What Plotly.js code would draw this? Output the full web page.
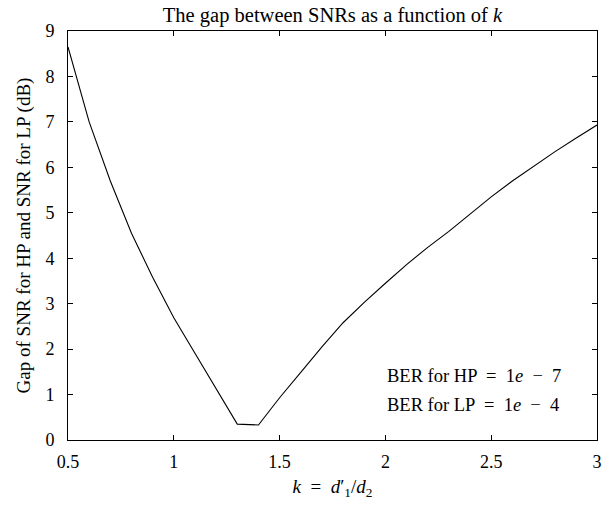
<!DOCTYPE html>
<html>
<head>
<meta charset="utf-8">
<script src="https://cdn.plot.ly/plotly-3.0.1.min.js"></script>
<style>html,body{margin:0;padding:0;background:#fff;}#chart{width:615px;height:505px;}</style>
</head>
<body>
<div id="chart"></div>
<script>
const kValues = [0.5,0.6,0.7,0.8,0.9,1.0,1.1,1.2,1.3,1.4,1.5,1.6,1.7,1.8,1.9,2.0,2.1,2.2,2.3,2.4,2.5,2.6,2.7,2.8,2.9,3.0];
const gapValues = [8.65,7.0,5.70,4.55,3.58,2.69,1.91,1.13,0.35,0.33,0.93,1.49,2.05,2.58,3.03,3.45,3.86,4.24,4.59,4.97,5.35,5.70,6.02,6.34,6.64,6.93];
const xTicks = [0.5,1,1.5,2,2.5,3];
const xTickText = ['0.5','1','1.5','2','2.5','3'];
const yTicks = [0,1,2,3,4,5,6,7,8,9];
const noteLines = ['BER for HP &nbsp;= &nbsp;1<i>e</i> &nbsp;− &nbsp;7','BER for LP &nbsp;= &nbsp;1<i>e</i> &nbsp;− &nbsp;4'];

const fam = "'Liberation Serif', 'Times New Roman', serif";
const tickFont = {family: fam, size: 18, color: '#000'};
const axisFont = {family: fam, size: 19, color: '#000'};
const noteFont = {family: fam, size: 18.5, color: '#000'};

const trace = {
  x: kValues, y: gapValues, type: 'scatter', mode: 'lines',
  line: {color: '#000', width: 1.1}, hoverinfo: 'skip'
};

const layout = {
  width: 615, height: 505,
  margin: {l: 68, r: 18, t: 31, b: 65},
  paper_bgcolor: '#fff', plot_bgcolor: '#fff',
  font: tickFont,
  showlegend: false,
  title: {text: 'The gap between SNRs as a function of <i>k</i>', font: {family: fam, size: 20.5, color: '#000'}, x: 0.5, xanchor: 'center', y: 0.971, yanchor: 'middle', xref: 'paper'},
  xaxis: {
    range: [0.5, 3], tickvals: xTicks, ticktext: xTickText,
    ticks: 'inside', ticklen: 5, tickcolor: '#000', tickwidth: 1,
    showline: true, linecolor: '#000', linewidth: 1, mirror: 'ticks',
    showgrid: false, zeroline: false, tickfont: tickFont, ticklabelstandoff: 5,
    title: {text: '<i>k</i> &nbsp;= &nbsp;<i>d</i>′<sub>1</sub>/<i>d</i><sub>2</sub>', font: axisFont, standoff: 9}
  },
  yaxis: {
    range: [0, 9], tickvals: yTicks,
    ticks: 'inside', ticklen: 5, tickcolor: '#000', tickwidth: 1,
    showline: true, linecolor: '#000', linewidth: 1, mirror: 'ticks',
    showgrid: false, zeroline: false, tickfont: tickFont, ticklabelstandoff: 9,
    title: {text: 'Gap of SNR for HP and SNR for LP (dB)', font: axisFont, standoff: 9}
  },
  annotations: [
    {x: 2.0, y: 1.40, xref: 'x', yref: 'y', text: noteLines[0], showarrow: false, xanchor: 'left', yanchor: 'middle', font: noteFont},
    {x: 2.0, y: 0.78, xref: 'x', yref: 'y', text: noteLines[1], showarrow: false, xanchor: 'left', yanchor: 'middle', font: noteFont}
  ]
};

Plotly.newPlot('chart', [trace], layout, {displayModeBar: false, staticPlot: true});
</script>
</body>
</html>
